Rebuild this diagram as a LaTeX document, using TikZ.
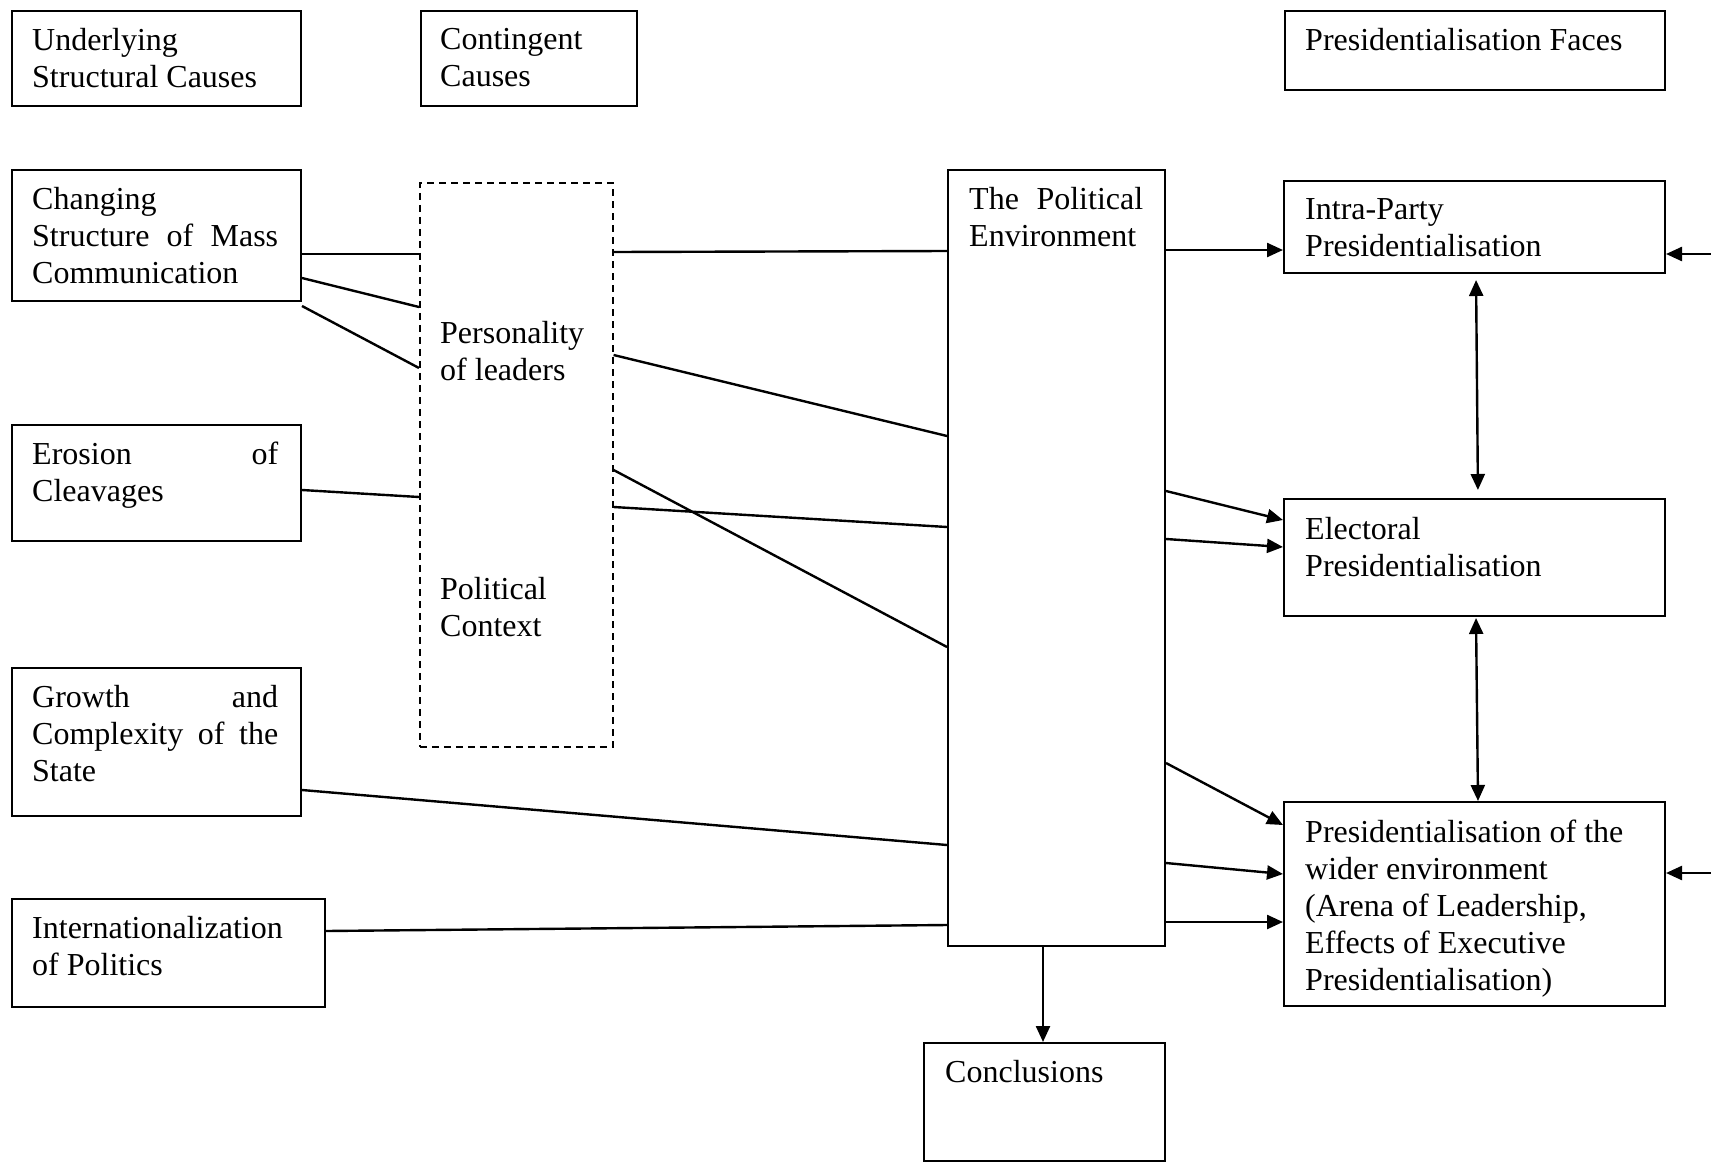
\documentclass[tikz,border=0pt]{standalone}
\usepackage{fontspec}
\setmainfont{Liberation Serif}
\usetikzlibrary{arrows.meta}
\begin{document}
\begin{tikzpicture}[x=1pt,y=-1pt,
  box/.style={draw, line width=2pt, inner sep=0pt, anchor=north west},
  dbox/.style={draw, line width=1.6pt, dash pattern=on 7pt off 5pt, inner sep=0pt, anchor=north west},
  txt/.style={inner sep=0pt, anchor=north west, align=left, font=\fontsize{32}{37}\selectfont},
  conn/.style={line width=2.4pt},
  arr/.style={line width=2.4pt, -{Triangle[length=16pt,width=14pt]}},
  darr/.style={line width=2.4pt, {Triangle[length=16pt,width=14pt]}-{Triangle[length=16pt,width=14pt]}}]
\useasboundingbox (0,0) rectangle (1711,1162);

% boxes
\node[box, minimum width=289pt, minimum height=95pt]  (ucause) at (11,10) {};
\node[box, minimum width=216pt, minimum height=95pt]  (ccause) at (420,10) {};
\node[box, minimum width=380pt, minimum height=79pt]  (faces)  at (1284,10) {};
\node[box, minimum width=289pt, minimum height=131pt] (chg)    at (11,169) {};
\node[dbox, minimum width=193pt, minimum height=564pt] (dash)  at (419,182) {};
\node[box, minimum width=289pt, minimum height=116pt] (ero)    at (11,424) {};
\node[box, minimum width=289pt, minimum height=148pt] (grw)    at (11,667) {};
\node[box, minimum width=313pt, minimum height=108pt] (intl)   at (11,898) {};
\node[box, minimum width=217pt, minimum height=776pt] (pe)     at (947,169) {};
\node[box, minimum width=241pt, minimum height=118pt] (concl)  at (923,1042) {};
\node[box, minimum width=381pt, minimum height=92pt]  (intra)  at (1283,180) {};
\node[box, minimum width=381pt, minimum height=117pt] (elec)   at (1283,498) {};
\node[box, minimum width=381pt, minimum height=204pt] (wider)  at (1283,801) {};

% texts
\node[txt] (t-ucause) at (32,28.5) {Underlying\\Structural Causes};
\node[txt] (t-ccause) at (440,28.5) {Contingent\\Causes};
\node[txt] (t-faces)  at (1305,28.5) {Presidentialisation Faces};
\node[txt, text width=246pt] (t-chg) at (32,187.5) {Changing\\Structure\hfill of\hfill Mass\\Communication};
\node[txt] (t-pers) at (440,321.5) {Personality\\of leaders};
\node[txt] (t-pctx) at (440,577.5) {Political\\Context};
\node[txt, text width=246pt] (t-ero) at (32,442) {Erosion\hfill of\\Cleavages};
\node[txt, text width=246pt] (t-grw) at (32,685.5) {Growth\hfill and\\Complexity\hfill of\hfill the\\State};
\node[txt] (t-intl) at (32,916) {Internationalization\\of Politics};
\node[txt, text width=174pt] (t-pe) at (969,187.5) {The\hfill Political\\Environment};
\node[txt] (t-concl) at (945,1060.5) {Conclusions};
\node[txt] (t-intra) at (1305,198.5) {Intra-Party\\Presidentialisation};
\node[txt] (t-elec)  at (1305,517) {Electoral\\Presidentialisation};
\node[txt] (t-wider) at (1305,820) {Presidentialisation of the\\wider environment\\(Arena of Leadership,\\Effects of Executive\\Presidentialisation)};

% free ends on the right edge
\coordinate (rin1) at (1711,254);
\coordinate (rin2) at (1711,873);

% underlying causes -> contingent causes
\draw[conn] ([yshift=-85pt]chg.north east) -- ([yshift=-72pt]dash.north west);
\draw[conn] ([yshift=-109pt]chg.north east) -- ([yshift=-125pt]dash.north west);
\draw[conn] ([yshift=-4pt]chg.south east) -- ([yshift=-186pt]dash.north west);
\draw[conn] ([yshift=-66pt]ero.north east) -- ([yshift=-315pt]dash.north west);

% contingent -> political environment
\draw[conn] ([yshift=-70pt]dash.north east) -- ([yshift=-82pt]pe.north west);
\draw[conn] ([yshift=-173pt]dash.north east) -- ([yshift=-267pt]pe.north west);
\draw[conn] ([yshift=-288pt]dash.north east) -- ([yshift=-478pt]pe.north west);
\draw[conn] ([yshift=-325pt]dash.north east) -- ([yshift=-358pt]pe.north west);
\draw[conn] ([yshift=-123pt]grw.north east) -- ([yshift=-676pt]pe.north west);
\draw[conn] ([yshift=-33pt]intl.north east) -- ([yshift=-756pt]pe.north west);

% political environment -> faces
\draw[arr] ([yshift=-81pt]pe.north east) -- ([yshift=-70pt]intra.north west);
\draw[arr] ([yshift=-322pt]pe.north east) -- ([yshift=-22pt]elec.north west);
\draw[arr] ([yshift=-370pt]pe.north east) -- ([yshift=-49pt]elec.north west);
\draw[arr] ([yshift=-594pt]pe.north east) -- ([yshift=-24pt]wider.north west);
\draw[arr] ([yshift=-694pt]pe.north east) -- ([yshift=-73pt]wider.north west);
\draw[arr] ([yshift=-753pt]pe.north east) -- ([yshift=-121pt]wider.north west);
\draw[arr] ([xshift=96pt]pe.south west) -- ([xshift=120pt]concl.north west);

% between faces
\draw[darr, shorten <=6pt, shorten >=8pt] ([xshift=193pt]intra.south west) -- ([xshift=195pt]elec.north west);
\draw[darr, shorten <=1pt] ([xshift=193pt]elec.south west) -- ([xshift=195pt]wider.north west);

% from the right edge
\draw[arr] (rin1) -- ([yshift=-74pt]intra.north east);
\draw[arr] (rin2) -- ([yshift=-72pt]wider.north east);
\end{tikzpicture}
\end{document}
